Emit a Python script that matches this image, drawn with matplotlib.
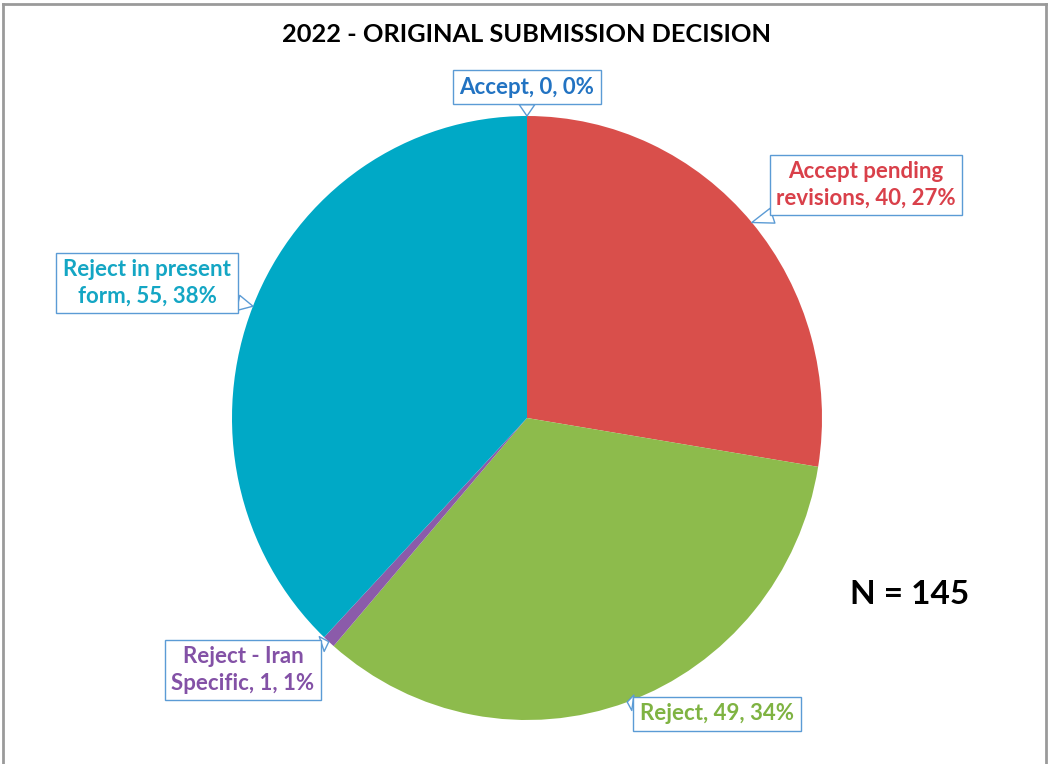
import matplotlib
matplotlib.use("Agg")
import matplotlib.pyplot as plt
import numpy as np

plt.rcParams['font.family'] = ['Lato', 'DejaVu Sans']

categories = ['Accept', 'Accept pending\nrevisions', 'Reject', 'Reject - Iran\nSpecific', 'Reject in present\nform']
counts = [0, 40, 49, 1, 55]
pcts = ['0%', '27%', '34%', '1%', '38%']
colors = ['#2E75C6', '#D94F4B', '#8DBB4C', '#8B5BAA', '#00A9C6']
text_colors = ['#2273C2', '#D9404A', '#7FB342', '#8351A6', '#14A6C4']
total = 145

W, H = 1049, 764
fig = plt.figure(figsize=(W / 100, H / 100), dpi=100)

# pie centre and radii in pixels
cx, cy, rx, ry = 527, 418, 295, 302
ax = fig.add_axes([(cx - rx) / W, (H - cy - ry) / H, 2 * rx / W, 2 * ry / H])

wedges, _ = ax.pie(counts, colors=colors, startangle=90, counterclock=False,
                   radius=1, wedgeprops={'linewidth': 0})
ax.set_aspect('auto')
ax.set_xlim(-1, 1)
ax.set_ylim(-1, 1)
ax.axis('off')

# label box centres in pixels (from top-left)
box_pos = [(527, 87), (866, 185), (717, 714), (243, 670), (147, 283)]

for i, w in enumerate(wedges):
    mid = np.deg2rad((w.theta1 + w.theta2) / 2)
    tip = (np.cos(mid), np.sin(mid))
    if counts[i] == 0:
        tip = (0, 1)
    bx, by = box_pos[i]
    ax.annotate(f'{categories[i]}, {counts[i]}, {pcts[i]}', xy=tip, xycoords='data',
                xytext=(bx / W, 1 - by / H), textcoords='figure fraction',
                ha='center', va='center', fontsize=16, fontweight='bold',
                color=text_colors[i], linespacing=1.3,
                bbox=dict(boxstyle='square,pad=0.3', fc='white', ec='#5B9BD5', lw=1),
                arrowprops=dict(arrowstyle='wedge,tail_width=0.7,shrink_factor=0.5',
                                fc='white', ec='#5B9BD5', lw=1, shrinkA=0, shrinkB=0),
                annotation_clip=False)

fig.text(527 / W, 1 - 35 / H, '2022 - ORIGINAL SUBMISSION DECISION', ha='center', va='center',
         fontsize=18.3, fontweight='bold', color='black')
fig.text(910 / W, 1 - 594 / H, f'N = {total}', ha='center', va='center',
         fontsize=24, fontweight='bold', color='black')

# gray frame
fig.add_artist(plt.Line2D([3 / W, 3 / W], [0, 1 - 4 / H], color='#9A9A9A', lw=2))
fig.add_artist(plt.Line2D([3 / W, 1046 / W], [1 - 4 / H, 1 - 4 / H], color='#9A9A9A', lw=2))
fig.add_artist(plt.Line2D([1046 / W, 1046 / W], [0, 1 - 4 / H], color='#9A9A9A', lw=2))

fig.savefig('out.png', dpi=100)
